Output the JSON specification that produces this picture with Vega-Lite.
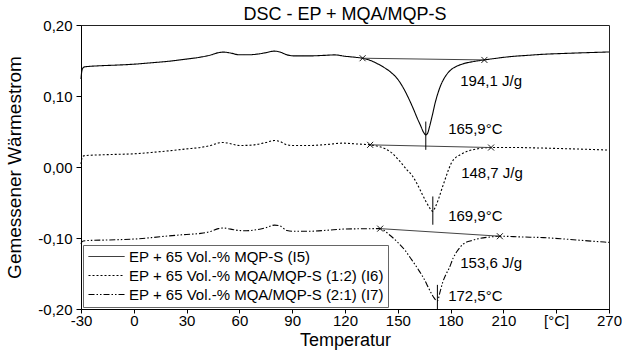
{
  "$schema": "https://vega.github.io/schema/vega-lite/v6.json",
  "autosize": {"type": "none"},
  "padding": {"left": 81, "top": 25, "right": 13, "bottom": 43},
  "width": 528,
  "height": 284,
  "title": {"text": "DSC - EP + MQA/MQP-S", "fontSize": 18, "fontWeight": "normal", "anchor": "middle", "frame": "group", "baseline": "alphabetic", "offset": -20, "color": "#000"},
  "config": {
    "font": "Liberation Sans",
    "view": {"stroke": "#222", "strokeWidth": 1},
    "axis": {"grid": false, "domainColor": "#000", "tickColor": "#000", "labelColor": "#000", "titleColor": "#000", "labelFontSize": 15, "titleFontSize": 18, "titleFontWeight": "normal", "labelOverlap": false}
  },
  "datasets": {
    "curves": [
      {"s": "EP + 65 Vol.-% MQP-S (I5)", "t": -30, "w": 0.124},
      {"s": "EP + 65 Vol.-% MQP-S (I5)", "t": -29.6, "w": 0.134},
      {"s": "EP + 65 Vol.-% MQP-S (I5)", "t": -29, "w": 0.139},
      {"s": "EP + 65 Vol.-% MQP-S (I5)", "t": -28, "w": 0.141},
      {"s": "EP + 65 Vol.-% MQP-S (I5)", "t": -20, "w": 0.1425},
      {"s": "EP + 65 Vol.-% MQP-S (I5)", "t": -10, "w": 0.1435},
      {"s": "EP + 65 Vol.-% MQP-S (I5)", "t": 0, "w": 0.1448},
      {"s": "EP + 65 Vol.-% MQP-S (I5)", "t": 10, "w": 0.1468},
      {"s": "EP + 65 Vol.-% MQP-S (I5)", "t": 20, "w": 0.149},
      {"s": "EP + 65 Vol.-% MQP-S (I5)", "t": 30, "w": 0.152},
      {"s": "EP + 65 Vol.-% MQP-S (I5)", "t": 38, "w": 0.1548},
      {"s": "EP + 65 Vol.-% MQP-S (I5)", "t": 44, "w": 0.158},
      {"s": "EP + 65 Vol.-% MQP-S (I5)", "t": 48, "w": 0.161},
      {"s": "EP + 65 Vol.-% MQP-S (I5)", "t": 51, "w": 0.1618},
      {"s": "EP + 65 Vol.-% MQP-S (I5)", "t": 55, "w": 0.1605},
      {"s": "EP + 65 Vol.-% MQP-S (I5)", "t": 60, "w": 0.158},
      {"s": "EP + 65 Vol.-% MQP-S (I5)", "t": 65, "w": 0.158},
      {"s": "EP + 65 Vol.-% MQP-S (I5)", "t": 70, "w": 0.159},
      {"s": "EP + 65 Vol.-% MQP-S (I5)", "t": 75, "w": 0.161},
      {"s": "EP + 65 Vol.-% MQP-S (I5)", "t": 80, "w": 0.1632},
      {"s": "EP + 65 Vol.-% MQP-S (I5)", "t": 83, "w": 0.162},
      {"s": "EP + 65 Vol.-% MQP-S (I5)", "t": 87, "w": 0.158},
      {"s": "EP + 65 Vol.-% MQP-S (I5)", "t": 91, "w": 0.1565},
      {"s": "EP + 65 Vol.-% MQP-S (I5)", "t": 100, "w": 0.1565},
      {"s": "EP + 65 Vol.-% MQP-S (I5)", "t": 108, "w": 0.1572},
      {"s": "EP + 65 Vol.-% MQP-S (I5)", "t": 114, "w": 0.1579},
      {"s": "EP + 65 Vol.-% MQP-S (I5)", "t": 120, "w": 0.156},
      {"s": "EP + 65 Vol.-% MQP-S (I5)", "t": 126, "w": 0.1545},
      {"s": "EP + 65 Vol.-% MQP-S (I5)", "t": 130, "w": 0.1532},
      {"s": "EP + 65 Vol.-% MQP-S (I5)", "t": 134, "w": 0.1505},
      {"s": "EP + 65 Vol.-% MQP-S (I5)", "t": 138, "w": 0.146},
      {"s": "EP + 65 Vol.-% MQP-S (I5)", "t": 142, "w": 0.1405},
      {"s": "EP + 65 Vol.-% MQP-S (I5)", "t": 146, "w": 0.1335},
      {"s": "EP + 65 Vol.-% MQP-S (I5)", "t": 150, "w": 0.1235},
      {"s": "EP + 65 Vol.-% MQP-S (I5)", "t": 153, "w": 0.112},
      {"s": "EP + 65 Vol.-% MQP-S (I5)", "t": 156, "w": 0.0975},
      {"s": "EP + 65 Vol.-% MQP-S (I5)", "t": 159, "w": 0.081},
      {"s": "EP + 65 Vol.-% MQP-S (I5)", "t": 161, "w": 0.069},
      {"s": "EP + 65 Vol.-% MQP-S (I5)", "t": 163, "w": 0.058},
      {"s": "EP + 65 Vol.-% MQP-S (I5)", "t": 164.5, "w": 0.0495},
      {"s": "EP + 65 Vol.-% MQP-S (I5)", "t": 165.9, "w": 0.0453},
      {"s": "EP + 65 Vol.-% MQP-S (I5)", "t": 167, "w": 0.048},
      {"s": "EP + 65 Vol.-% MQP-S (I5)", "t": 168, "w": 0.0565},
      {"s": "EP + 65 Vol.-% MQP-S (I5)", "t": 169.5, "w": 0.0715},
      {"s": "EP + 65 Vol.-% MQP-S (I5)", "t": 171, "w": 0.088},
      {"s": "EP + 65 Vol.-% MQP-S (I5)", "t": 173, "w": 0.1055},
      {"s": "EP + 65 Vol.-% MQP-S (I5)", "t": 175, "w": 0.1185},
      {"s": "EP + 65 Vol.-% MQP-S (I5)", "t": 177, "w": 0.1275},
      {"s": "EP + 65 Vol.-% MQP-S (I5)", "t": 180, "w": 0.1365},
      {"s": "EP + 65 Vol.-% MQP-S (I5)", "t": 184, "w": 0.1425},
      {"s": "EP + 65 Vol.-% MQP-S (I5)", "t": 188, "w": 0.146},
      {"s": "EP + 65 Vol.-% MQP-S (I5)", "t": 193, "w": 0.1485},
      {"s": "EP + 65 Vol.-% MQP-S (I5)", "t": 199, "w": 0.1508},
      {"s": "EP + 65 Vol.-% MQP-S (I5)", "t": 205, "w": 0.1528},
      {"s": "EP + 65 Vol.-% MQP-S (I5)", "t": 214, "w": 0.1555},
      {"s": "EP + 65 Vol.-% MQP-S (I5)", "t": 224, "w": 0.1573},
      {"s": "EP + 65 Vol.-% MQP-S (I5)", "t": 233, "w": 0.1588},
      {"s": "EP + 65 Vol.-% MQP-S (I5)", "t": 245, "w": 0.16},
      {"s": "EP + 65 Vol.-% MQP-S (I5)", "t": 257, "w": 0.161},
      {"s": "EP + 65 Vol.-% MQP-S (I5)", "t": 270, "w": 0.162},

      {"s": "EP + 65 Vol.-% MQA/MQP-S (1:2) (I6)", "t": -30, "w": 0.004},
      {"s": "EP + 65 Vol.-% MQA/MQP-S (1:2) (I6)", "t": -29.6, "w": 0.011},
      {"s": "EP + 65 Vol.-% MQA/MQP-S (1:2) (I6)", "t": -29, "w": 0.0145},
      {"s": "EP + 65 Vol.-% MQA/MQP-S (1:2) (I6)", "t": -28, "w": 0.016},
      {"s": "EP + 65 Vol.-% MQA/MQP-S (1:2) (I6)", "t": -20, "w": 0.017},
      {"s": "EP + 65 Vol.-% MQA/MQP-S (1:2) (I6)", "t": -10, "w": 0.0178},
      {"s": "EP + 65 Vol.-% MQA/MQP-S (1:2) (I6)", "t": 0, "w": 0.0186},
      {"s": "EP + 65 Vol.-% MQA/MQP-S (1:2) (I6)", "t": 10, "w": 0.0205},
      {"s": "EP + 65 Vol.-% MQA/MQP-S (1:2) (I6)", "t": 20, "w": 0.0228},
      {"s": "EP + 65 Vol.-% MQA/MQP-S (1:2) (I6)", "t": 30, "w": 0.0255},
      {"s": "EP + 65 Vol.-% MQA/MQP-S (1:2) (I6)", "t": 38, "w": 0.0276},
      {"s": "EP + 65 Vol.-% MQA/MQP-S (1:2) (I6)", "t": 44, "w": 0.0305},
      {"s": "EP + 65 Vol.-% MQA/MQP-S (1:2) (I6)", "t": 48, "w": 0.0338},
      {"s": "EP + 65 Vol.-% MQA/MQP-S (1:2) (I6)", "t": 51, "w": 0.0345},
      {"s": "EP + 65 Vol.-% MQA/MQP-S (1:2) (I6)", "t": 55, "w": 0.0328},
      {"s": "EP + 65 Vol.-% MQA/MQP-S (1:2) (I6)", "t": 60, "w": 0.0303},
      {"s": "EP + 65 Vol.-% MQA/MQP-S (1:2) (I6)", "t": 65, "w": 0.0305},
      {"s": "EP + 65 Vol.-% MQA/MQP-S (1:2) (I6)", "t": 70, "w": 0.0318},
      {"s": "EP + 65 Vol.-% MQA/MQP-S (1:2) (I6)", "t": 75, "w": 0.0345},
      {"s": "EP + 65 Vol.-% MQA/MQP-S (1:2) (I6)", "t": 80, "w": 0.0373},
      {"s": "EP + 65 Vol.-% MQA/MQP-S (1:2) (I6)", "t": 83, "w": 0.036},
      {"s": "EP + 65 Vol.-% MQA/MQP-S (1:2) (I6)", "t": 87, "w": 0.0312},
      {"s": "EP + 65 Vol.-% MQA/MQP-S (1:2) (I6)", "t": 91, "w": 0.0302},
      {"s": "EP + 65 Vol.-% MQA/MQP-S (1:2) (I6)", "t": 100, "w": 0.0303},
      {"s": "EP + 65 Vol.-% MQA/MQP-S (1:2) (I6)", "t": 110, "w": 0.0318},
      {"s": "EP + 65 Vol.-% MQA/MQP-S (1:2) (I6)", "t": 119, "w": 0.0336},
      {"s": "EP + 65 Vol.-% MQA/MQP-S (1:2) (I6)", "t": 126, "w": 0.0325},
      {"s": "EP + 65 Vol.-% MQA/MQP-S (1:2) (I6)", "t": 134.3, "w": 0.0312},
      {"s": "EP + 65 Vol.-% MQA/MQP-S (1:2) (I6)", "t": 139, "w": 0.029},
      {"s": "EP + 65 Vol.-% MQA/MQP-S (1:2) (I6)", "t": 143, "w": 0.0255},
      {"s": "EP + 65 Vol.-% MQA/MQP-S (1:2) (I6)", "t": 147, "w": 0.019},
      {"s": "EP + 65 Vol.-% MQA/MQP-S (1:2) (I6)", "t": 151, "w": 0.0085},
      {"s": "EP + 65 Vol.-% MQA/MQP-S (1:2) (I6)", "t": 155, "w": -0.0035},
      {"s": "EP + 65 Vol.-% MQA/MQP-S (1:2) (I6)", "t": 158, "w": -0.0115},
      {"s": "EP + 65 Vol.-% MQA/MQP-S (1:2) (I6)", "t": 161, "w": -0.024},
      {"s": "EP + 65 Vol.-% MQA/MQP-S (1:2) (I6)", "t": 164, "w": -0.039},
      {"s": "EP + 65 Vol.-% MQA/MQP-S (1:2) (I6)", "t": 166.5, "w": -0.051},
      {"s": "EP + 65 Vol.-% MQA/MQP-S (1:2) (I6)", "t": 168.5, "w": -0.059},
      {"s": "EP + 65 Vol.-% MQA/MQP-S (1:2) (I6)", "t": 169.9, "w": -0.0626},
      {"s": "EP + 65 Vol.-% MQA/MQP-S (1:2) (I6)", "t": 171.2, "w": -0.057},
      {"s": "EP + 65 Vol.-% MQA/MQP-S (1:2) (I6)", "t": 173, "w": -0.0461},
      {"s": "EP + 65 Vol.-% MQA/MQP-S (1:2) (I6)", "t": 175, "w": -0.031},
      {"s": "EP + 65 Vol.-% MQA/MQP-S (1:2) (I6)", "t": 176.8, "w": -0.018},
      {"s": "EP + 65 Vol.-% MQA/MQP-S (1:2) (I6)", "t": 178.8, "w": -0.004},
      {"s": "EP + 65 Vol.-% MQA/MQP-S (1:2) (I6)", "t": 180.6, "w": 0.0065},
      {"s": "EP + 65 Vol.-% MQA/MQP-S (1:2) (I6)", "t": 183, "w": 0.0135},
      {"s": "EP + 65 Vol.-% MQA/MQP-S (1:2) (I6)", "t": 186, "w": 0.018},
      {"s": "EP + 65 Vol.-% MQA/MQP-S (1:2) (I6)", "t": 190, "w": 0.0225},
      {"s": "EP + 65 Vol.-% MQA/MQP-S (1:2) (I6)", "t": 195, "w": 0.0255},
      {"s": "EP + 65 Vol.-% MQA/MQP-S (1:2) (I6)", "t": 203, "w": 0.0274},
      {"s": "EP + 65 Vol.-% MQA/MQP-S (1:2) (I6)", "t": 215, "w": 0.0275},
      {"s": "EP + 65 Vol.-% MQA/MQP-S (1:2) (I6)", "t": 230, "w": 0.0268},
      {"s": "EP + 65 Vol.-% MQA/MQP-S (1:2) (I6)", "t": 245, "w": 0.0258},
      {"s": "EP + 65 Vol.-% MQA/MQP-S (1:2) (I6)", "t": 260, "w": 0.0247},
      {"s": "EP + 65 Vol.-% MQA/MQP-S (1:2) (I6)", "t": 270, "w": 0.0238},

      {"s": "EP + 65 Vol.-% MQA/MQP-S (2:1) (I7)", "t": -30, "w": -0.1085},
      {"s": "EP + 65 Vol.-% MQA/MQP-S (2:1) (I7)", "t": -29.5, "w": -0.1055},
      {"s": "EP + 65 Vol.-% MQA/MQP-S (2:1) (I7)", "t": -28.5, "w": -0.1042},
      {"s": "EP + 65 Vol.-% MQA/MQP-S (2:1) (I7)", "t": -27.7, "w": -0.1038},
      {"s": "EP + 65 Vol.-% MQA/MQP-S (2:1) (I7)", "t": -15, "w": -0.1028},
      {"s": "EP + 65 Vol.-% MQA/MQP-S (2:1) (I7)", "t": 0, "w": -0.1015},
      {"s": "EP + 65 Vol.-% MQA/MQP-S (2:1) (I7)", "t": 10, "w": -0.0995},
      {"s": "EP + 65 Vol.-% MQA/MQP-S (2:1) (I7)", "t": 20, "w": -0.097},
      {"s": "EP + 65 Vol.-% MQA/MQP-S (2:1) (I7)", "t": 30, "w": -0.095},
      {"s": "EP + 65 Vol.-% MQA/MQP-S (2:1) (I7)", "t": 38, "w": -0.0935},
      {"s": "EP + 65 Vol.-% MQA/MQP-S (2:1) (I7)", "t": 44, "w": -0.0905},
      {"s": "EP + 65 Vol.-% MQA/MQP-S (2:1) (I7)", "t": 48, "w": -0.0868},
      {"s": "EP + 65 Vol.-% MQA/MQP-S (2:1) (I7)", "t": 51, "w": -0.086},
      {"s": "EP + 65 Vol.-% MQA/MQP-S (2:1) (I7)", "t": 55, "w": -0.0875},
      {"s": "EP + 65 Vol.-% MQA/MQP-S (2:1) (I7)", "t": 60, "w": -0.0895},
      {"s": "EP + 65 Vol.-% MQA/MQP-S (2:1) (I7)", "t": 64, "w": -0.0898},
      {"s": "EP + 65 Vol.-% MQA/MQP-S (2:1) (I7)", "t": 70, "w": -0.0882},
      {"s": "EP + 65 Vol.-% MQA/MQP-S (2:1) (I7)", "t": 75, "w": -0.0855},
      {"s": "EP + 65 Vol.-% MQA/MQP-S (2:1) (I7)", "t": 80, "w": -0.0818},
      {"s": "EP + 65 Vol.-% MQA/MQP-S (2:1) (I7)", "t": 83, "w": -0.083},
      {"s": "EP + 65 Vol.-% MQA/MQP-S (2:1) (I7)", "t": 87, "w": -0.0895},
      {"s": "EP + 65 Vol.-% MQA/MQP-S (2:1) (I7)", "t": 91, "w": -0.0905},
      {"s": "EP + 65 Vol.-% MQA/MQP-S (2:1) (I7)", "t": 100, "w": -0.0905},
      {"s": "EP + 65 Vol.-% MQA/MQP-S (2:1) (I7)", "t": 110, "w": -0.089},
      {"s": "EP + 65 Vol.-% MQA/MQP-S (2:1) (I7)", "t": 119.6, "w": -0.0874},
      {"s": "EP + 65 Vol.-% MQA/MQP-S (2:1) (I7)", "t": 130, "w": -0.087},
      {"s": "EP + 65 Vol.-% MQA/MQP-S (2:1) (I7)", "t": 140, "w": -0.0868},
      {"s": "EP + 65 Vol.-% MQA/MQP-S (2:1) (I7)", "t": 145, "w": -0.095},
      {"s": "EP + 65 Vol.-% MQA/MQP-S (2:1) (I7)", "t": 150, "w": -0.1062},
      {"s": "EP + 65 Vol.-% MQA/MQP-S (2:1) (I7)", "t": 154, "w": -0.117},
      {"s": "EP + 65 Vol.-% MQA/MQP-S (2:1) (I7)", "t": 157.6, "w": -0.1296},
      {"s": "EP + 65 Vol.-% MQA/MQP-S (2:1) (I7)", "t": 161, "w": -0.142},
      {"s": "EP + 65 Vol.-% MQA/MQP-S (2:1) (I7)", "t": 165, "w": -0.158},
      {"s": "EP + 65 Vol.-% MQA/MQP-S (2:1) (I7)", "t": 168, "w": -0.173},
      {"s": "EP + 65 Vol.-% MQA/MQP-S (2:1) (I7)", "t": 170.5, "w": -0.184},
      {"s": "EP + 65 Vol.-% MQA/MQP-S (2:1) (I7)", "t": 172.5, "w": -0.189},
      {"s": "EP + 65 Vol.-% MQA/MQP-S (2:1) (I7)", "t": 174, "w": -0.176},
      {"s": "EP + 65 Vol.-% MQA/MQP-S (2:1) (I7)", "t": 175.5, "w": -0.1625},
      {"s": "EP + 65 Vol.-% MQA/MQP-S (2:1) (I7)", "t": 177.5, "w": -0.1505},
      {"s": "EP + 65 Vol.-% MQA/MQP-S (2:1) (I7)", "t": 179.2, "w": -0.1425},
      {"s": "EP + 65 Vol.-% MQA/MQP-S (2:1) (I7)", "t": 181.5, "w": -0.128},
      {"s": "EP + 65 Vol.-% MQA/MQP-S (2:1) (I7)", "t": 183.9, "w": -0.118},
      {"s": "EP + 65 Vol.-% MQA/MQP-S (2:1) (I7)", "t": 187.2, "w": -0.1085},
      {"s": "EP + 65 Vol.-% MQA/MQP-S (2:1) (I7)", "t": 191.6, "w": -0.1038},
      {"s": "EP + 65 Vol.-% MQA/MQP-S (2:1) (I7)", "t": 196.7, "w": -0.1005},
      {"s": "EP + 65 Vol.-% MQA/MQP-S (2:1) (I7)", "t": 201, "w": -0.099},
      {"s": "EP + 65 Vol.-% MQA/MQP-S (2:1) (I7)", "t": 208, "w": -0.0975},
      {"s": "EP + 65 Vol.-% MQA/MQP-S (2:1) (I7)", "t": 220, "w": -0.0985},
      {"s": "EP + 65 Vol.-% MQA/MQP-S (2:1) (I7)", "t": 233, "w": -0.0995},
      {"s": "EP + 65 Vol.-% MQA/MQP-S (2:1) (I7)", "t": 245, "w": -0.1015},
      {"s": "EP + 65 Vol.-% MQA/MQP-S (2:1) (I7)", "t": 258, "w": -0.104},
      {"s": "EP + 65 Vol.-% MQA/MQP-S (2:1) (I7)", "t": 270, "w": -0.1062}
    ],
    "baselines": [
      {"s": "I5", "t": 130, "w": 0.1532},
      {"s": "I5", "t": 199.2, "w": 0.1508},
      {"s": "I6", "t": 134.3, "w": 0.0312},
      {"s": "I6", "t": 203, "w": 0.0274},
      {"s": "I7", "t": 140, "w": -0.0868},
      {"s": "I7", "t": 208, "w": -0.0975}
    ],
    "peaks": [
      {"s": "I5", "t": 165.9, "top": 0.064, "bottom": 0.0242},
      {"s": "I6", "t": 169.9, "top": -0.0415, "bottom": -0.0813},
      {"s": "I7", "t": 172.5, "top": -0.166, "bottom": -0.2}
    ],
    "labels": [
      {"t": 185.5, "w": 0.121, "text": "194,1 J/g"},
      {"t": 178.6, "w": 0.054, "text": "165,9°C"},
      {"t": 186, "w": -0.0086, "text": "148,7 J/g"},
      {"t": 178.6, "w": -0.0696, "text": "169,9°C"},
      {"t": 185.5, "w": -0.1352, "text": "153,6 J/g"},
      {"t": 178.6, "w": -0.181, "text": "172,5°C"}
    ]
  },
  "layer": [
    {
      "data": {"name": "curves"},
      "mark": {"type": "line", "color": "#000", "strokeWidth": 1.1, "interpolate": "monotone"},
      "encoding": {
        "x": {
          "field": "t", "type": "quantitative",
          "scale": {"domain": [-30, 270], "nice": false, "zero": false},
          "axis": {
            "title": "Temperatur",
            "values": [-30, -15, 0, 15, 30, 45, 60, 75, 90, 105, 120, 135, 150, 165, 180, 195, 210, 225, 240, 255, 270],
            "labelExpr": "datum.value % 30 !== 0 ? '' : (datum.value === 240 ? '[°C]' : replace(datum.label, '\u2212', '-'))",
            "labelFlush": false,
            "tickSize": {"condition": {"test": "datum.value % 30 !== 0", "value": -3}, "value": 4},
            "labelPadding": 0,
            "titlePadding": 3
          }
        },
        "y": {
          "field": "w", "type": "quantitative",
          "scale": {"domain": [-0.2, 0.2], "nice": false, "zero": false},
          "axis": {
            "title": "Gemessener Wärmestrom",
            "titleFontSize": 19,
            "values": [-0.2, -0.175, -0.15, -0.125, -0.1, -0.075, -0.05, -0.025, 0, 0.025, 0.05, 0.075, 0.1, 0.125, 0.15, 0.175, 0.2],
            "labelExpr": "abs(datum.value * 20 - round(datum.value * 20)) > 0.1 ? '' : (abs(datum.value - 0.15) < 0.001 ? '[W/g]' : replace(replace(format(datum.value, '.2f'), '.', ','), '\u2212', '-'))",
            "tickSize": {"condition": {"test": "abs(datum.value * 20 - round(datum.value * 20)) > 0.1", "value": 3}, "value": 5},
            "labelPadding": 4,
            "titlePadding": 13
          }
        },
        "strokeDash": {
          "field": "s", "type": "nominal",
          "scale": {
            "domain": ["EP + 65 Vol.-% MQP-S (I5)", "EP + 65 Vol.-% MQA/MQP-S (1:2) (I6)", "EP + 65 Vol.-% MQA/MQP-S (2:1) (I7)"],
            "range": [[1, 0], [2, 2], [6, 2, 1.5, 2, 1.5, 2]]
          },
          "legend": {
            "title": null,
            "orient": "bottom-left",
            "offset": 2,
            "symbolType": "M-1,0H5",
            "symbolSize": 144,
            "symbolStrokeWidth": 1,
            "symbolStrokeColor": "#000",
            "symbolFillColor": "transparent",
            "labelFontSize": 15,
            "labelColor": "#000",
            "labelOffset": 27,
            "labelLimit": 400,
            "rowPadding": 3,
            "padding": 4,
            "strokeColor": "#666",
            "fillColor": "#fff"
          }
        }
      }
    },
    {
      "data": {"name": "baselines"},
      "mark": {"type": "line", "color": "#444", "strokeWidth": 1},
      "encoding": {
        "x": {"field": "t", "type": "quantitative"},
        "y": {"field": "w", "type": "quantitative"},
        "detail": {"field": "s"}
      }
    },
    {
      "data": {"name": "baselines"},
      "mark": {"type": "point", "shape": "M-1,-1L1,1M-1,1L1,-1", "size": 36, "filled": false, "color": "#000", "strokeWidth": 0.9, "opacity": 1},
      "encoding": {
        "x": {"field": "t", "type": "quantitative"},
        "y": {"field": "w", "type": "quantitative"}
      }
    },
    {
      "data": {"name": "peaks"},
      "mark": {"type": "rule", "color": "#000", "strokeWidth": 1},
      "encoding": {
        "x": {"field": "t", "type": "quantitative"},
        "y": {"field": "top", "type": "quantitative"},
        "y2": {"field": "bottom"}
      }
    },
    {
      "data": {"name": "labels"},
      "mark": {"type": "text", "align": "left", "baseline": "middle", "fontSize": 15, "color": "#000"},
      "encoding": {
        "x": {"field": "t", "type": "quantitative"},
        "y": {"field": "w", "type": "quantitative"},
        "text": {"field": "text"}
      }
    }
  ]
}
